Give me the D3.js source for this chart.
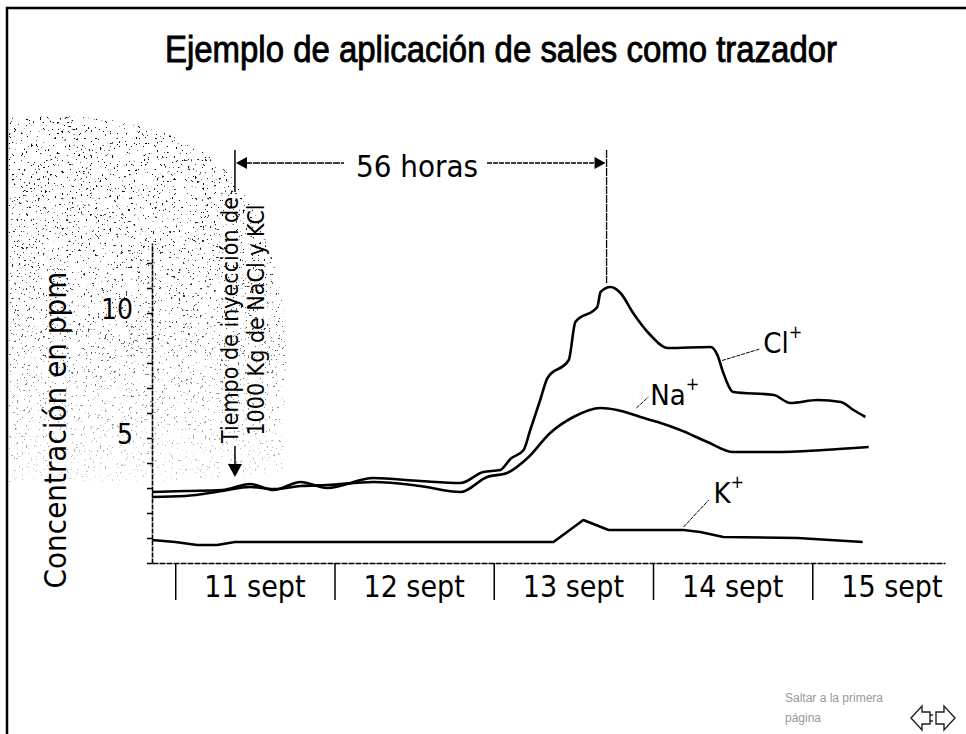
<!DOCTYPE html>
<html>
<head>
<meta charset="utf-8">
<script src="https://cdn.jsdelivr.net/npm/d3@7/dist/d3.min.js"></script>
<style>
body { margin: 0; background: #fff; }
svg { display: block; }
.cond { font-family: "DejaVu Sans Condensed", "DejaVu Sans", sans-serif; font-stretch: condensed; }
</style>
</head>
<body>
<div class="canvas"></div>
<script>
// horas desde el 11 sept 00:00 y concentracion en ppm
const clHours = [-3.5, 1.5, 7.1, 11.3, 14.8, 18.9, 22.9, 29.9, 36.9, 43.0, 46.4, 49.0, 50.5, 52.5, 53.5, 55.0, 56.1, 59.3, 60.3, 63.6, 64.1, 65.6, 67.1, 69.0, 71.6, 74.2, 80.7, 81.7, 82.6, 84.1, 90.2, 92.7, 96.8, 100.3, 102.2, 104.0]
const clPpm = [2.84, 2.88, 2.92, 3.16, 2.92, 3.24, 3.0, 3.4, 3.28, 3.2, 3.64, 3.72, 4.16, 4.52, 5.32, 6.52, 7.4, 8.12, 9.64, 10.24, 10.84, 11.04, 10.8, 10.0, 9.12, 8.6, 8.64, 8.32, 7.6, 6.84, 6.72, 6.4, 6.52, 6.44, 6.12, 5.84]

const naHours = [-3.5, 1.5, 7.1, 11.3, 14.8, 18.9, 22.9, 29.9, 36.9, 43.0, 47.0, 50.0, 53.1, 56.5, 60.0, 64.1, 66.6, 70.1, 72.7, 76.1, 80.2, 84.1, 90.2, 97.7, 104.5]
const naPpm = [2.64, 2.68, 2.88, 3.04, 2.96, 3.08, 3.12, 3.24, 3.08, 2.84, 3.44, 3.6, 4.2, 5.2, 5.84, 6.2, 6.12, 5.84, 5.64, 5.32, 4.84, 4.44, 4.44, 4.52, 4.64]

const kHours = [-3.5, 0, 3.3, 6.3, 9.0, 18.8, 33.9, 57.0, 61.5, 65.3, 76.6, 79.1, 82.6, 93.8, 103.6]
const kPpm = [0.92, 0.84, 0.72, 0.72, 0.84, 0.84, 0.84, 0.84, 1.72, 1.32, 1.32, 1.24, 1.04, 1.0, 0.84]

const dayTicks = [0, 24, 48, 72, 96]
const dayLabels = ["11 sept", "12 sept", "13 sept", "14 sept", "15 sept"]
const yTicks = d3.range(0, 13, 1)
const yLabels = [5, 10]

const injectionHour = 9
const travelHours = 56

const canvas = d3.select(".canvas")
const svg = canvas.append("svg")
    .attr("width", 966)
    .attr("height", 734)

const x = d3.scaleLinear().domain([-3.5, 116]).range([152, 945])
const y = d3.scaleLinear().domain([0, 12.8]).range([563, 243])

// marco de la diapositiva
svg.append("path")
    .attr("d", "M7,734V8H966")
    .attr("fill", "none")
    .attr("stroke", "#000")
    .attr("stroke-width", 2.5)

// moteado del escaneo
const defs = svg.append("defs")
const filt = defs.append("filter")
    .attr("id", "speck")
    .attr("filterUnits", "userSpaceOnUse")
    .attr("x", 0).attr("y", 100).attr("width", 320).attr("height", 400)
    .attr("color-interpolation-filters", "sRGB")
filt.append("feTurbulence")
    .attr("type", "fractalNoise")
    .attr("baseFrequency", 0.42)
    .attr("numOctaves", 2)
    .attr("seed", 7)
filt.append("feColorMatrix")
    .attr("type", "matrix")
    .attr("values", "0 0 0 0 0  0 0 0 0 0  0 0 0 0 0  20 0 0 0 -13.5")

const grad = defs.append("linearGradient")
    .attr("id", "fade")
    .attr("gradientUnits", "userSpaceOnUse")
    .attr("x1", 0).attr("y1", 110).attr("x2", 0).attr("y2", 485)
grad.append("stop").attr("offset", 0).attr("stop-color", "#fff")
grad.append("stop").attr("offset", 0.5).attr("stop-color", "#ccc")
grad.append("stop").attr("offset", 1).attr("stop-color", "#333")

defs.append("mask").attr("id", "fadeMask")
    .append("rect")
    .attr("x", 0).attr("y", 100).attr("width", 320).attr("height", 400)
    .attr("fill", "url(#fade)")

defs.append("clipPath").attr("id", "speckClip")
    .append("path")
    .attr("d", "M9,118C110,110 190,128 232,178C268,222 290,300 287,380L283,470C220,480 120,484 9,482Z")

svg.append("g")
    .attr("clip-path", "url(#speckClip)")
    .attr("mask", "url(#fadeMask)")
    .append("rect")
    .attr("x", 0).attr("y", 100).attr("width", 320).attr("height", 400)
    .attr("fill", "#000")
    .attr("filter", "url(#speck)")

// titulo
svg.append("text")
    .attr("x", 501)
    .attr("y", 62)
    .attr("text-anchor", "middle")
    .attr("font-family", "Liberation Sans, Arial, sans-serif")
    .attr("font-size", 37)
    .attr("textLength", 672)
    .attr("lengthAdjust", "spacingAndGlyphs")
    .attr("fill", "#000")
    .attr("stroke", "#000")
    .attr("stroke-width", 0.9)
    .text("Ejemplo de aplicación de sales como trazador")

// eje y
const yAxis = d3.axisLeft(y).tickValues(yTicks).tickSize(5).tickSizeOuter(0).tickFormat("")
const gy = svg.append("g").attr("transform", "translate(152,0)").call(yAxis)
gy.select(".domain").attr("stroke-width", 1.6).attr("stroke-dasharray", "5 1")
gy.selectAll(".tick line").attr("stroke-width", 1.5)

svg.selectAll(".ylab")
    .data(yLabels)
    .enter().append("text")
    .attr("class", "ylab cond")
    .attr("x", 133)
    .attr("y", d => y(d) + 6)
    .attr("text-anchor", "end")
    .attr("font-size", 28)
    .text(d => d)

svg.append("text")
    .attr("class", "cond")
    .attr("transform", "translate(66,430) rotate(-90)")
    .attr("text-anchor", "middle")
    .attr("font-size", 31)
    .text("Concentración en ppm")

// eje x
const xAxis = d3.axisBottom(x).tickValues(dayTicks).tickSize(37).tickSizeOuter(0).tickFormat("")
const gx = svg.append("g").attr("transform", "translate(0,563)").call(xAxis)
gx.select(".domain").attr("stroke-width", 1.5).attr("stroke-dasharray", "6 1")
gx.selectAll(".tick line").attr("stroke-width", 1.5)

svg.selectAll(".day")
    .data(dayLabels)
    .enter().append("text")
    .attr("class", "day cond")
    .attr("x", (d, i) => x(dayTicks[i] + 12))
    .attr("y", 597)
    .attr("text-anchor", "middle")
    .attr("font-size", 30)
    .text(d => d)

// curvas
const line = d3.line()
    .x(d => x(d[0]))
    .y(d => y(d[1]))

const series = [
    {pts: d3.zip(clHours, clPpm), curve: d3.curveMonotoneX},
    {pts: d3.zip(naHours, naPpm), curve: d3.curveMonotoneX},
    {pts: d3.zip(kHours, kPpm), curve: d3.curveLinear}
]

svg.selectAll(".ion")
    .data(series)
    .enter().append("path")
    .attr("class", "ion")
    .attr("fill", "none")
    .attr("stroke", "#000")
    .attr("stroke-width", 2.6)
    .attr("stroke-linejoin", "round")
    .attr("d", d => line.curve(d.curve)(d.pts))

// etiquetas de iones con guia
const ionNames = ["Cl", "Na", "K"]
const ionFrom = [[82.4, 8.1], [69.5, 6.2], [76.6, 1.44]]
const ionTo = [[88.1, 8.56], [71.3, 6.64], [80.4, 2.52]]
const ionText = [[88.6, 8.4], [71.6, 6.32], [81.1, 2.4]]

ionNames.forEach((n, i) => {
    svg.append("line")
        .attr("x1", x(ionFrom[i][0])).attr("y1", y(ionFrom[i][1]))
        .attr("x2", x(ionTo[i][0])).attr("y2", y(ionTo[i][1]))
        .attr("stroke", "#000")
        .attr("stroke-width", 1)
        .attr("stroke-dasharray", "4 1")
    const t = svg.append("text")
        .attr("class", "cond")
        .attr("x", x(ionText[i][0]))
        .attr("y", y(ionText[i][1]))
        .attr("font-size", 29)
    t.append("tspan").text(n)
    t.append("tspan").attr("dy", -15).attr("font-size", 18).text("+")
})

// inyeccion y 56 horas
const xi = x(injectionHour)
const xe = x(injectionHour + travelHours)
const ink = "#000"

svg.append("line").attr("x1", xi).attr("x2", xi).attr("y1", 150).attr("y2", 192)
    .attr("stroke", ink).attr("stroke-width", 1.5)
svg.append("line").attr("x1", xi).attr("x2", xi).attr("y1", 446).attr("y2", 466)
    .attr("stroke", ink).attr("stroke-width", 1.5)
svg.append("path")
    .attr("d", `M${xi - 7},464L${xi + 7},464L${xi},477Z`)
    .attr("fill", ink)

svg.append("text")
    .attr("class", "cond")
    .attr("transform", `translate(${xi + 3},320) rotate(-90)`)
    .attr("text-anchor", "middle")
    .attr("font-size", 23)
    .text("Tiempo de inyección de")
svg.append("text")
    .attr("class", "cond")
    .attr("transform", `translate(${xi + 29},320) rotate(-90)`)
    .attr("text-anchor", "middle")
    .attr("font-size", 23)
    .text("1000 Kg de NaCl y KCl")

svg.append("line").attr("x1", xe).attr("x2", xe).attr("y1", 150).attr("y2", 283)
    .attr("stroke", ink).attr("stroke-width", 1.3).attr("stroke-dasharray", "8 1")

svg.append("line").attr("x1", xi + 10).attr("x2", 344).attr("y1", 163).attr("y2", 163)
    .attr("stroke", ink).attr("stroke-width", 1.5).attr("stroke-dasharray", "7 1")
svg.append("line").attr("x1", 487).attr("x2", xe - 10).attr("y1", 163).attr("y2", 163)
    .attr("stroke", ink).attr("stroke-width", 1.5).attr("stroke-dasharray", "5 1")
svg.append("path").attr("d", `M${xi + 1},163L${xi + 12},157L${xi + 12},169Z`).attr("fill", ink)
svg.append("path").attr("d", `M${xe - 1},163L${xe - 12},157L${xe - 12},169Z`).attr("fill", ink)

svg.append("text")
    .attr("class", "cond")
    .attr("x", 417)
    .attr("y", 177)
    .attr("text-anchor", "middle")
    .attr("font-size", 31)
    .text("56 horas")

// navegacion
svg.append("text")
    .attr("x", 785).attr("y", 702)
    .attr("font-family", "Liberation Sans, Arial, sans-serif")
    .attr("font-size", 12)
    .attr("fill", "#999")
    .text("Saltar a la primera")
svg.append("text")
    .attr("x", 785).attr("y", 722)
    .attr("font-family", "Liberation Sans, Arial, sans-serif")
    .attr("font-size", 12)
    .attr("fill", "#999")
    .text("página")

svg.append("path")
    .attr("d", "M911,718L922,706L922,712L930,712L930,724L922,724L922,730Z M955,718L944,706L944,712L936,712L936,724L944,724L944,730Z M930,715L933,715M930,721L933,721")
    .attr("fill", "none")
    .attr("stroke", "#222")
    .attr("stroke-width", 1.4)
</script>
</body>
</html>
